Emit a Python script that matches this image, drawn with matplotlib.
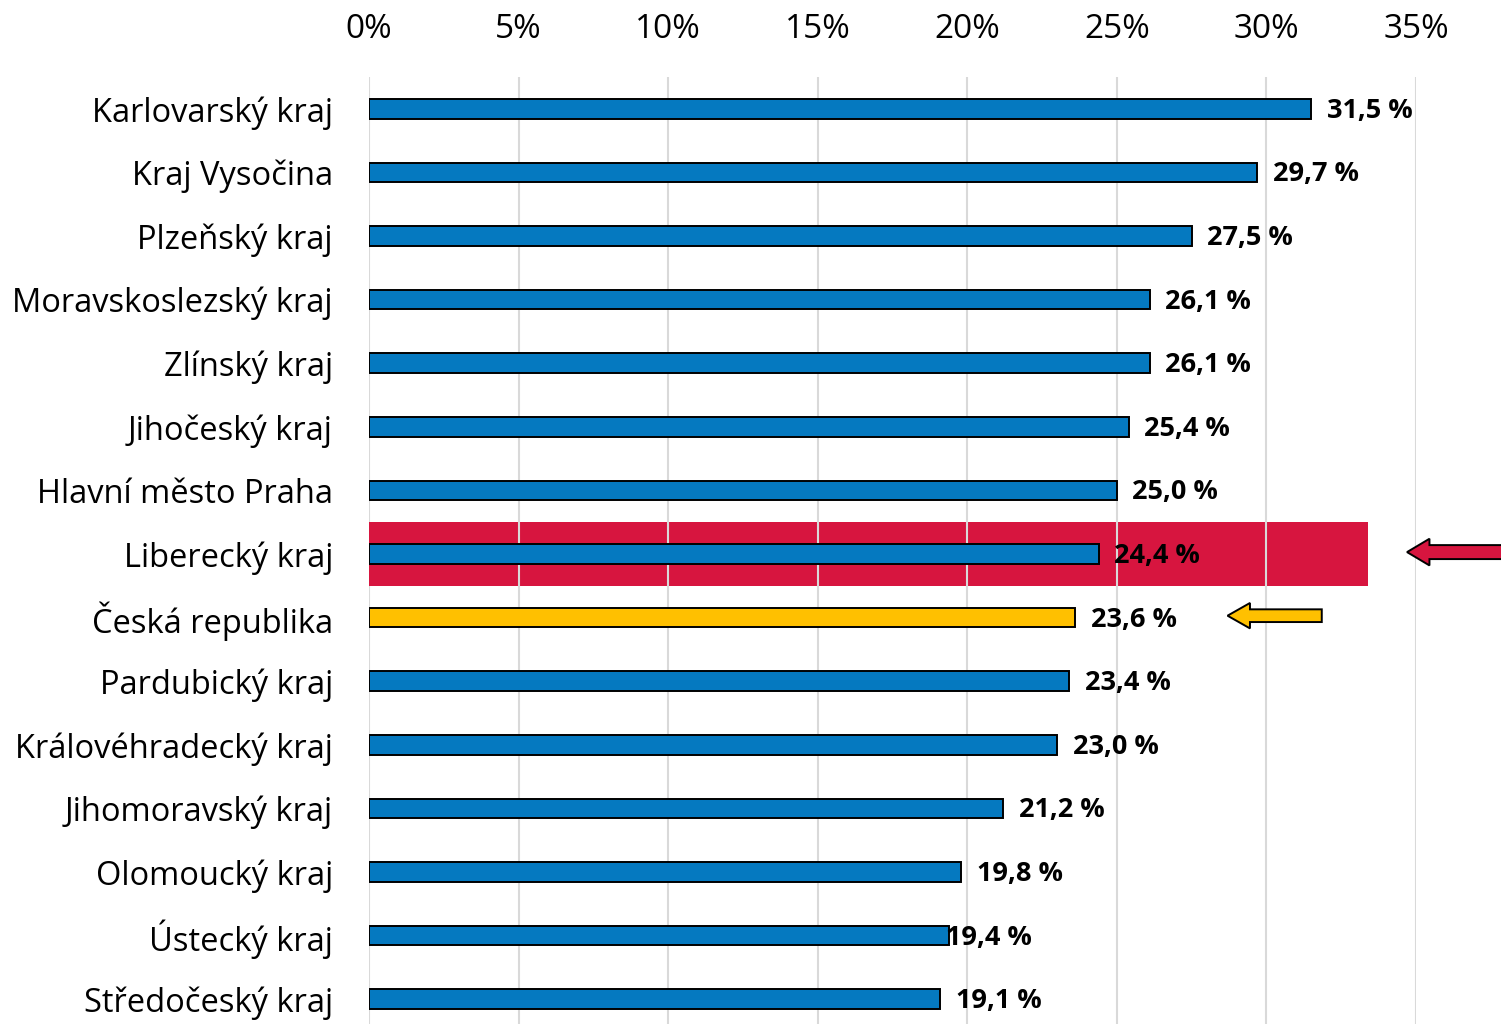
import matplotlib.pyplot as plt
from matplotlib.patches import FancyArrow

plt.rcParams["font.family"] = ["Open Sans", "DejaVu Sans"]

regions = ["Karlovarský kraj", "Kraj Vysočina", "Plzeňský kraj", "Moravskoslezský kraj",
           "Zlínský kraj", "Jihočeský kraj", "Hlavní město Praha", "Liberecký kraj",
           "Česká republika", "Pardubický kraj", "Královéhradecký kraj", "Jihomoravský kraj",
           "Olomoucký kraj", "Ústecký kraj", "Středočeský kraj"]
values = [31.5, 29.7, 27.5, 26.1, 26.1, 25.4, 25.0, 24.4, 23.6, 23.4, 23.0, 21.2, 19.8, 19.4, 19.1]
ticks = [0, 5, 10, 15, 20, 25, 30, 35]
highlight = "Liberecký kraj"
national = "Česká republika"

BLUE = "#0579C0"
RED = "#D7153F"
YELLOW = "#FFC000"

fig = plt.figure(figsize=(15.01, 10.24), dpi=100)
ax = fig.add_axes([369 / 1501, -7 / 1024, 1047 / 1501, 954 / 1024])

n = len(regions)
ypos = list(range(n))
colors = [YELLOW if r == national else BLUE for r in regions]

hi = regions.index(highlight)
ax.barh(hi, 33.4, height=1.0, color=RED, zorder=1, linewidth=0)
for t in ticks[1:]:
    ax.axvline(t, color="#d9d9d9", lw=1.5, zorder=1.5)
ax.axvline(0, color="#d9d9d9", lw=1.5, zorder=0.5)

ax.barh(ypos, values, height=0.31, color=colors, edgecolor="black", linewidth=1.4, zorder=3)

for i, v in enumerate(values):
    off = -0.1 if regions[i] == "Ústecký kraj" else 0.52
    ax.text(v + off, i + 0.03, f"{v:.1f} %".replace(".", ","), va="center", ha="left",
            fontsize=19.5, fontweight="bold", color="black", zorder=4)

# arrows pointing left at the highlighted region and at the national value
ax.add_patch(FancyArrow(38.5, hi - 0.03, 34.7 - 38.5, 0, width=0.22, head_width=0.42,
                        head_length=0.75, length_includes_head=True, color=RED,
                        ec="black", lw=1.4, clip_on=False, zorder=5))
ni = regions.index(national)
ax.add_patch(FancyArrow(31.85, ni - 0.03, 28.7 - 31.85, 0, width=0.2, head_width=0.4,
                        head_length=0.75, length_includes_head=True, color=YELLOW,
                        ec="black", lw=1.4, clip_on=False, zorder=5))

ax.set_xlim(0, 35)
ax.set_ylim(n - 0.5, -0.5)
ax.set_yticks(ypos)
ax.set_yticklabels(regions, fontsize=23.5, va="center_baseline")
ax.set_xticks(ticks)
ax.set_xticklabels([f"{t}%" for t in ticks], fontsize=24)
ax.xaxis.tick_top()
ax.tick_params(axis="x", length=0, pad=22)
ax.tick_params(axis="y", length=0, pad=26)
for s in ax.spines.values():
    s.set_visible(False)

fig.savefig("out.png", dpi=100)
